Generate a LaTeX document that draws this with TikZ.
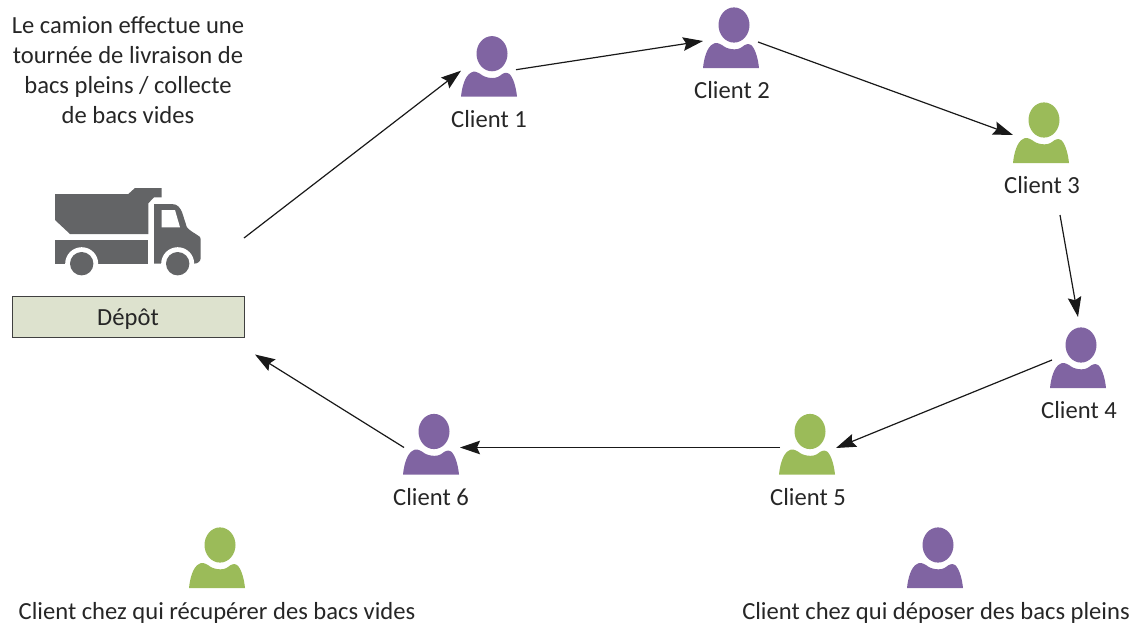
\documentclass[tikz,border=0pt]{standalone}
\usepackage{fontspec}
\setmainfont{Carlito}
\definecolor{purp}{HTML}{8064A2}
\definecolor{gree}{HTML}{9BBB59}
\definecolor{truckc}{HTML}{636466}
\definecolor{depotc}{HTML}{DDE2CE}
\definecolor{txt}{HTML}{262626}
\usetikzlibrary{arrows.meta}
\tikzset{
  lbl/.style={inner sep=0pt,text=txt,font=\fontsize{24.6}{30}\selectfont,align=center},
  iconbox/.style={minimum width=56pt,minimum height=60pt,inner sep=0pt,outer sep=0pt},
  link/.style={-{Stealth[length=20pt,width=13.5pt,inset=3pt]},line width=1.2pt,black!90},
}
\newcommand{\personicon}[5]{% name, x, y, colour, label
  \begin{scope}[shift={(#2,#3)}]
    \fill[#4] (3,-13) ellipse [x radius=15.5pt,y radius=17.6pt];
    \fill[#4] (-28,30) .. controls (-27,20) and (-24,9) .. (-18,6) .. controls (-15,4) and (-13,5) .. (-9,7) .. controls (-4,11.5) and (6,13) .. (11,9) .. controls (14,6.5) and (17,5) .. (20,7) .. controls (24,10) and (27,20) .. (28,30) -- cycle;
  \end{scope}
  \node[iconbox] (#1) at (#2,#3) {};
}
\begin{document}
\begin{tikzpicture}[x=1pt,y=-1pt]
\useasboundingbox (0,0) rectangle (1136,624);
% truck
\begin{scope}[truckc]
  \fill (55,194) -- (128.3,194) -- (135,188) -- (161.7,188) -- (161.7,197.3) -- (154,197.3) -- (148.3,203.3) -- (148.3,234) -- (70,234) -- (55,220) -- cycle;
  \fill (55,240) -- (148.3,240) -- (148.3,263.7) -- (55,263.7) -- cycle;
  \fill (154,204) -- (171.7,204) .. controls (178,204) and (180,208) .. (182,212) -- (186.7,226.7) .. controls (188,230) and (198,235) .. (200,237) .. controls (200.7,238) and (200.7,240) .. (200.7,241) -- (200.7,258) .. controls (200.7,261) and (198,263.7) .. (194,263.7) -- (154,263.7) -- cycle;
  \fill[white] (161.7,210) -- (175,210) -- (180,227.3) -- (161.7,227.3) -- cycle;
  \fill[white] (81.7,263.7) circle [radius=16.5pt];
  \fill[white] (177.7,263.7) circle [radius=16.5pt];
  \fill (81.7,263.7) circle [radius=11.7pt];
  \fill (177.7,263.7) circle [radius=11.7pt];
\end{scope}
\node[minimum width=146pt,minimum height=88pt,inner sep=0pt,outer sep=0pt] (truck) at (128,232) {};
\node[draw=black!75,fill=depotc,line width=0.8pt,minimum width=232pt,minimum height=41pt,inner sep=0pt,outer sep=0pt,text=txt,font=\fontsize{24.6}{30}\selectfont] (depot) at (128,317) {\raisebox{-8pt}[0pt][0pt]{Dépôt}};
\node[lbl] (intro) at (128,70) {Le camion effectue une\\tournée de livraison de\\bacs pleins / collecte\\de bacs vides};
% people
\personicon{c1}{489}{66.7}{purp}{}
\personicon{c2}{731}{38}{purp}{}
\personicon{c3}{1041}{133}{gree}{}
\personicon{c4}{1078}{358}{purp}{}
\personicon{c5}{807}{444.5}{gree}{}
\personicon{c6}{431}{444.5}{purp}{}
\personicon{lg}{217}{558}{gree}{}
\personicon{lp}{935}{558}{purp}{}
\node[lbl] (c1t) at (489,119) {Client 1};
\node[lbl] (c2t) at (732,90) {Client 2};
\node[lbl] (c3t) at (1042,185) {Client 3};
\node[lbl] (c4t) at (1079,410) {Client 4};
\node[lbl] (c5t) at (808,497) {Client 5};
\node[lbl] (c6t) at (431,497) {Client 6};
\node[lbl] (lgt) at (217,612.5) {Client chez qui récupérer des bacs vides};
\node[lbl] (lpt) at (936,612.5) {Client chez qui déposer des bacs pleins};
% connectors
\draw[link] ([shift={(43,6)}]truck.east) -- ([shift={(0,4)}]c1.west);
\draw[link] ([shift={(-1,3)}]c1.east) -- ([shift={(0,3)}]c2.west);
\draw[link] ([shift={(-1,4)}]c2.east) -- ([shift={(0,2)}]c3.west);
\draw[link] ([shift={(18,30)}]c3t.center) -- ([shift={(0,-11)}]c4.north);
\draw[link] ([shift={(2,2)}]c4.west) -- ([shift={(1,3.5)}]c5.east);
\draw[link] ([shift={(1,3)}]c5.west) -- ([shift={(1,3)}]c6.east);
\draw[link] ([shift={(1,3)}]c6.west) -- ([shift={(11,17)}]depot.south east);
\end{tikzpicture}
\end{document}
